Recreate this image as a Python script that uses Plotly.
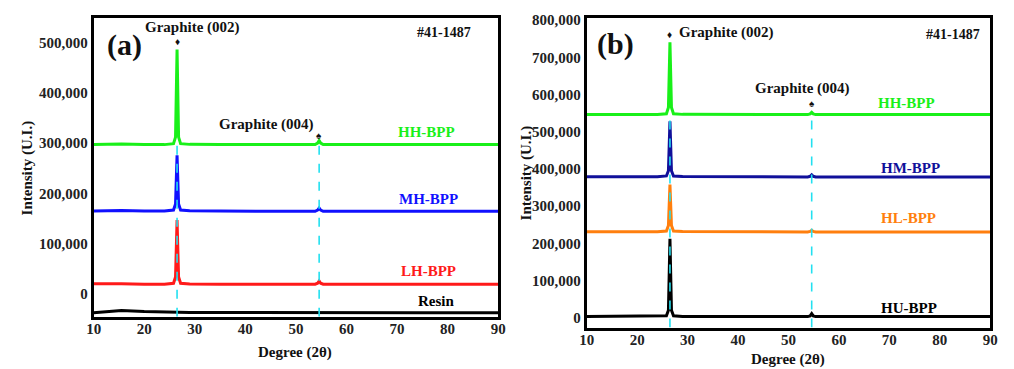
import plotly.graph_objects as go

# ---------------- data ----------------
two_theta = [10, 13, 15.5, 20, 24, 25.8, 26.2, 26.5, 26.8, 27.2, 29, 35, 45,
             53.8, 54.3, 54.6, 54.9, 55.4, 65, 75, 85, 90]

# panel (a)
a_names = ["HH-BPP", "MH-BPP", "LH-BPP", "Resin"]
a_hh = [297000, 297500, 298000, 297000, 297000, 299000, 312000, 486000, 312000, 299000, 297500,
        297000, 297000, 297000, 300000, 305000, 300000, 297000, 297000, 297000, 297000, 297000]
a_mh = [165000, 165500, 166000, 165000, 165000, 167000, 179000, 276000, 179000, 167000, 165500,
        165000, 164500, 164500, 167000, 171000, 167000, 164500, 164500, 164500, 164500, 164500]
a_lh = [20500, 21000, 20500, 19500, 19500, 21500, 34000, 147000, 34000, 21500, 20000,
        19500, 19500, 19500, 21500, 26000, 21500, 19500, 19500, 19500, 19500, 19500]
a_resin = [-37000, -34500, -32500, -34500, -36000, -36500, -36500, -36500, -36500, -36500, -36500,
           -36500, -37000, -37000, -37000, -37000, -37000, -37000, -37000, -37000, -37000, -37000]

# panel (b)
b_names = ["HH-BPP", "HM-BPP", "HL-BPP", "HU-BPP"]
b_hh = [546000, 546500, 546500, 546000, 546000, 548000, 565000, 740000, 565000, 548000, 546500,
        546000, 546000, 546000, 548000, 552000, 548000, 546000, 546000, 546000, 546000, 546000]
b_hm = [379000, 379500, 379500, 379000, 379000, 381000, 395000, 528000, 395000, 381000, 379500,
        379000, 378500, 378500, 380000, 384000, 380000, 378500, 378500, 378500, 378500, 378500]
b_hl = [231000, 231500, 231500, 231000, 231000, 233000, 248000, 358000, 248000, 233000, 231500,
        231000, 230500, 230500, 232000, 235000, 232000, 230500, 230500, 230500, 230500, 230500]
b_hu = [3000, 3000, 3000, 3000, 3000, 5000, 20000, 212000, 20000, 5000, 3500,
        3000, 3000, 3000, 5000, 11000, 5000, 3000, 3000, 3000, 3000, 3000]

peak_positions = [26.5, 54.6]
x_ticks = [10, 20, 30, 40, 50, 60, 70, 80, 90]
a_y_ticks = [0, 100000, 200000, 300000, 400000, 500000]
b_y_ticks = [0, 100000, 200000, 300000, 400000, 500000, 600000, 700000, 800000]

# ---------------- styling ----------------
FONT = "Liberation Serif"
a_colors = ["#19f019", "#1010ff", "#ff1a1a", "#000000"]
b_colors = ["#19f019", "#10109a", "#ff7f0e", "#000000"]
CYAN = "#22e0f0"
a_range = [-45000, 549000]
b_range = [-26500, 806000]

fig = go.Figure()

for name, ys, c in zip(a_names, [a_hh, a_mh, a_lh, a_resin], a_colors):
    fig.add_trace(go.Scatter(x=two_theta, y=ys, mode="lines", name=name,
                             line=dict(color=c, width=3), xaxis="x", yaxis="y"))
for name, ys, c in zip(b_names, [b_hh, b_hm, b_hl, b_hu], b_colors):
    fig.add_trace(go.Scatter(x=two_theta, y=ys, mode="lines", name=name,
                             line=dict(color=c, width=3), xaxis="x2", yaxis="y2"))

# dashed reference lines
for p in peak_positions:
    fig.add_trace(go.Scatter(x=[p, p], y=[a_range[0], a_hh[0]], mode="lines",
                             line=dict(color=CYAN, width=1.6, dash="dash"),
                             xaxis="x", yaxis="y", showlegend=False))
    fig.add_trace(go.Scatter(x=[p, p], y=[b_range[0], b_hh[0]], mode="lines",
                             line=dict(color=CYAN, width=1.6, dash="dash"),
                             xaxis="x2", yaxis="y2", showlegend=False))

W, H = 1014, 369
def px(x): return x / W
def py(y): return 1 - y / H

axis_common = dict(showline=True, linecolor="black", linewidth=3, mirror=True,
                   ticks="", showgrid=False, zeroline=False,
                   tickfont=dict(family=FONT, size=15, color="#222", weight="bold"))

fig.update_layout(
    width=W, height=H, margin=dict(l=0, r=0, t=0, b=0),
    paper_bgcolor="white", plot_bgcolor="white", showlegend=False,
    xaxis=dict(domain=[px(87), px(498)], range=[10, 90], tickvals=x_ticks,
               anchor="y", ticklabelstandoff=-4, **axis_common),
    yaxis=dict(domain=[py(316), py(13)], range=a_range, tickvals=a_y_ticks,
               tickformat=",d", anchor="x", **axis_common),
    xaxis2=dict(domain=[px(588), px(998)], range=[10, 90], tickvals=x_ticks,
                anchor="y2", ticklabelstandoff=-4, **axis_common),
    yaxis2=dict(domain=[py(327), py(13)], range=b_range, tickvals=b_y_ticks,
                tickformat=",d", anchor="x2", **axis_common),
)

def ann(text, x, y, xref, yref, size=14, color="#111", xanchor="center", angle=0):
    fig.add_annotation(text=text, x=x, y=y, xref=xref, yref=yref, showarrow=False,
                       xanchor=xanchor, yanchor="middle", textangle=angle,
                       font=dict(family=FONT, size=size, color=color, weight="bold"))

# panel (a) annotations
ann("(a)", px(118), py(41), "paper", "paper", size=30)
ann("Graphite (002)", 29.5, 529000, "x", "y", size=15)
ann("♦", 26.5, 502000, "x", "y", size=10)
ann("#41-1487", 79.3, 520000, "x", "y", size=14)
ann("Graphite (004)", 44.2, 337000, "x", "y", size=15)
ann("♠", 54.6, 316000, "x", "y", size=10)
for t, x, y, c in zip(a_names, [75.8, 76.3, 76.3, 77.7], [322000, 188000, 45000, -14000], a_colors):
    ann(t, x, y, "x", "y", size=15, color=c)
ann("Intensity (U.I.)", px(20), py(165), "paper", "paper", size=15, angle=-90)
ann("Degree (2θ)", px(292), py(352), "paper", "paper", size=15)

# panel (b) annotations
ann("(b)", px(617), py(40), "paper", "paper", size=30)
ann("♦", 26.4, 761000, "x2", "y2", size=10)
ann("Graphite (002)", 27.95, 767000, "x2", "y2", size=15, xanchor="left")
ann("#41-1487", 82.6, 761000, "x2", "y2", size=14)
ann("Graphite (004)", 52.7, 615000, "x2", "y2", size=15)
ann("♠", 54.7, 576000, "x2", "y2", size=10)
for t, x, y, c in zip(b_names, [73.4, 74.2, 73.8, 73.8], [576000, 403000, 268000, 26500], b_colors):
    ann(t, x, y, "x2", "y2", size=15, color=c)
ann("Intensity (U.I.)", px(527), py(170), "paper", "paper", size=15, angle=-90)
ann("Degree (2θ)", px(793), py(359), "paper", "paper", size=15)

fig.write_html("out.html", config={"displayModeBar": False},
               post_script="document.body.style.margin='0';document.body.style.padding='0';")
